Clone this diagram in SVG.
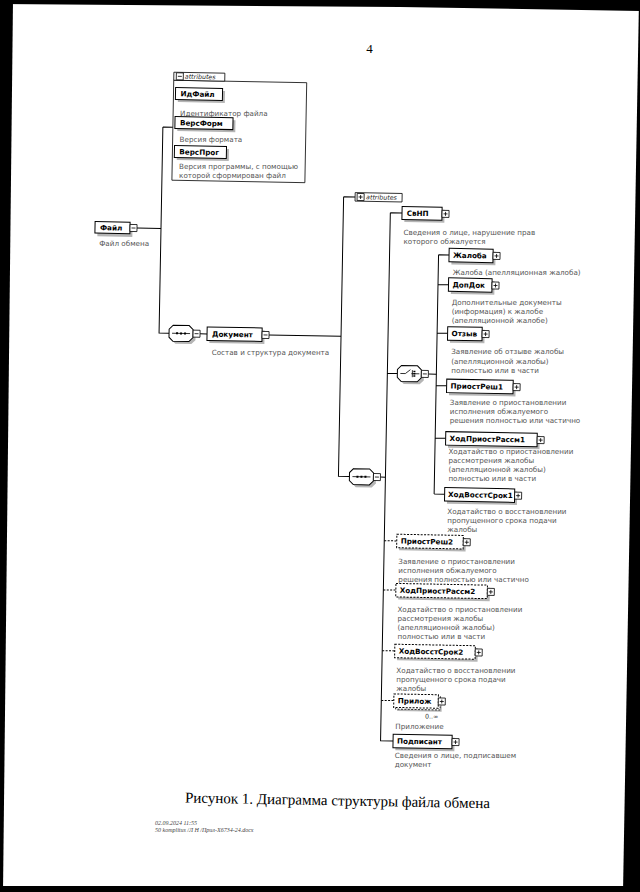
<svg xmlns="http://www.w3.org/2000/svg" xmlns:xlink="http://www.w3.org/1999/xlink" width="640" height="892" viewBox="0 0 640 892">
<style>
.bx{fill:#fff;stroke:#000;stroke-width:1}
.ds{stroke-dasharray:2 1.4}
.sh{fill:#b5b5b5}
.n{font-family:"DejaVu Sans",sans-serif;font-weight:bold;font-size:7.2px;fill:#000}
.t{font-family:"DejaVu Sans",sans-serif;font-size:7.2px;fill:#555}
.ti{font-family:"DejaVu Sans",sans-serif;font-style:italic;font-size:6.3px;fill:#222}
.c{stroke:#000;stroke-width:1;fill:none}
.cd{stroke:#000;stroke-width:1;fill:none;stroke-dasharray:2 1.4}
.cap{font-family:"Liberation Serif",serif;font-size:15px;fill:#000}
.ft{font-family:"Liberation Serif",serif;font-style:italic;font-size:6px;fill:#444}
</style>
<defs>
<g id="pl"><rect x="0" y="0" width="7" height="7" fill="#fff" stroke="#000" stroke-width="0.8"/><path d="M1.5 3.5h4M3.5 1.5v4" stroke="#000" stroke-width="0.8"/></g>
<g id="mi"><rect x="0" y="0" width="7" height="7" fill="#fff" stroke="#000" stroke-width="0.8"/><path d="M1.5 3.5h4" stroke="#000" stroke-width="0.8"/></g>
<path id="oct" d="M4 0H20L24 4V12L20 16H4L0 12V4Z"/>
</defs>
<rect x="0" y="0" width="640" height="892" fill="#fff"/>
<g transform="rotate(1.06 320 446)">
<text x="359" y="52" transform="rotate(-1.06 359 52)" style="font-family:'Liberation Serif',serif;font-size:13px">4</text>

<g id="connectors">
<path class="c" d="M157 130V336H167M133 231.5H157M157 130H167"/>
<path class="c" d="M198 336H205M266 336H339M339 196.3V476H350M339 196.3H350.5"/>
<path class="c" d="M381 476H386M386 211.6V739.5H398.5M386 211.6H397.7M386 372H396M427 372H435"/>
<path class="c" d="M435 252.7V492M435 252.7H445.5M435 282.3H445.5M435 331H445.5M435 383.5H445.5M435 436H445.5M435 492H445.5"/>
<path class="cd" d="M386 539.5H398.5M386 588.7H398.5M386 649.5H398.5M386 699.2H398.5"/>
</g>

<g id="attributes-file">
<rect x="167" y="83" width="133" height="100" fill="#fff" stroke="#000" stroke-width="0.8"/>
<rect x="167" y="75" width="51" height="8" fill="#fff" stroke="#000" stroke-width="0.8"/>
<use xlink:href="#mi" x="169.5" y="75.5"/>
<text class="ti" x="178" y="81.3">attributes</text>
</g>
<g id="ИдФайл"><rect class="sh" x="171.5" y="92.8" width="47" height="12"/><rect class="bx" x="169" y="90.3" width="47" height="12"/><text class="n" x="174" y="99">ИдФайл</text><g transform="rotate(-1.06 174 118.5)"><text class="t" x="174" y="118.5">Идентификатор файла</text></g></g>
<g id="ВерсФорм"><rect class="sh" x="171.5" y="121.8" width="58" height="12"/><rect class="bx" x="169" y="119.3" width="58" height="12"/><text class="n" x="174" y="128">ВерсФорм</text><g transform="rotate(-1.06 174 145)"><text class="t" x="174" y="145">Версия формата</text></g></g>
<g id="ВерсПрог"><rect class="sh" x="171.5" y="150.8" width="52" height="12"/><rect class="bx" x="169" y="148.3" width="52" height="12"/><text class="n" x="174" y="157">ВерсПрог</text><g transform="rotate(-1.06 174 172)"><text class="t" x="174" y="172">Версия программы, с помощью</text><text class="t" x="174" y="181">которой сформирован файл</text></g></g>

<g id="Файл"><rect class="sh" x="93.5" y="228.5" width="35" height="12"/><rect class="bx" x="91" y="225.8" width="35" height="11.5"/><use xlink:href="#mi" x="126" y="228"/><text class="n" x="96" y="234.3">Файл</text><g transform="rotate(-1.06 95.5 250.5)"><text class="t" x="95.5" y="250.5">Файл обмена</text></g></g>

<g id="seq-file"><use xlink:href="#oct" x="169.5" y="330.5" class="sh"/><use xlink:href="#oct" x="167" y="328" class="bx"/><path d="M170 336H188" stroke="#000" stroke-width="0.8"/><path d="M174 336h2M178 336h2M182 336h2" stroke="#000" stroke-width="2"/><use xlink:href="#mi" x="191" y="332.5"/></g>

<g id="Документ"><rect class="sh" x="207.5" y="331.5" width="55" height="13.5"/><rect class="bx" x="205" y="329" width="55" height="13.5"/><use xlink:href="#mi" x="260" y="332.5"/><text class="n" x="210" y="338.6">Документ</text><g transform="rotate(-1.06 210 357)"><text class="t" x="210" y="357">Состав и структура документа</text></g></g>

<g id="attributes-doc"><rect x="350.5" y="192" width="47" height="8.5" fill="#fff" stroke="#000" stroke-width="0.8"/><use xlink:href="#pl" x="352.5" y="192.8"/><text class="ti" x="361.5" y="198.5">attributes</text></g>

<g id="seq-doc"><use xlink:href="#oct" x="352.5" y="470.5" class="sh"/><use xlink:href="#oct" x="350" y="468" class="bx"/><path d="M353 476H371" stroke="#000" stroke-width="0.8"/><path d="M357 476h2M361 476h2M365 476h2" stroke="#000" stroke-width="2"/><use xlink:href="#mi" x="374" y="472.5"/></g>

<g id="СвНП"><rect class="sh" x="400.2" y="207.6" width="40" height="13"/><rect class="bx" x="397.7" y="205.1" width="40" height="13"/><use xlink:href="#pl" x="437.7" y="208.1"/><text class="n" x="402.5" y="214.2">СвНП</text><g transform="rotate(-1.06 399.5 233.5)"><text class="t" x="399.5" y="233.5">Сведения о лице, нарушение прав</text><text class="t" x="399.5" y="242.5">которого обжалуется</text></g></g>

<g id="choice"><use xlink:href="#oct" x="398.5" y="366.5" class="sh"/><use xlink:href="#oct" x="396" y="364" class="bx"/><path d="M399 372h5l5 -4M410 372h8M411 368.5v7" stroke="#000" stroke-width="0.8" fill="none"/><path d="M413 369v1.5M413 371.3v1.5M413 373.6v1.5" stroke="#000" stroke-width="2"/><use xlink:href="#mi" x="420" y="368.5"/></g>

<g id="Жалоба"><rect class="sh" x="448" y="248.5" width="44" height="13.5"/><rect class="bx" x="445.5" y="246" width="44" height="13.5"/><use xlink:href="#pl" x="489.5" y="249.2"/><text class="n" x="449.5" y="255.3">Жалоба</text><g transform="rotate(-1.06 449.5 273)"><text class="t" x="449.5" y="273">Жалоба (апелляционная жалоба)</text></g></g>
<g id="ДопДок"><rect class="sh" x="448" y="278" width="43.5" height="13.5"/><rect class="bx" x="445.5" y="275.5" width="43.5" height="13.5"/><use xlink:href="#pl" x="489" y="278.8"/><text class="n" x="449.5" y="284.9">ДопДок</text><g transform="rotate(-1.06 449 302.5)"><text class="t" x="449" y="302.5">Дополнительные документы</text><text class="t" x="449" y="311.5">(информация) к жалобе</text><text class="t" x="449" y="320.5">(апелляционной жалобе)</text></g></g>
<g id="Отзыв"><rect class="sh" x="448" y="326.8" width="34.5" height="13.5"/><rect class="bx" x="445.5" y="324.3" width="34.5" height="13.5"/><use xlink:href="#pl" x="480" y="327.5"/><text class="n" x="449.5" y="333.6">Отзыв</text><g transform="rotate(-1.06 449.5 352)"><text class="t" x="449.5" y="352">Заявление об отзыве жалобы</text><text class="t" x="449.5" y="361.5">(апелляционной жалобы)</text><text class="t" x="449.5" y="371">полностью или в части</text></g></g>
<g id="ПриостРеш1"><rect class="sh" x="448" y="379.3" width="66.5" height="13.5"/><rect class="bx" x="445.5" y="376.8" width="66.5" height="13.5"/><use xlink:href="#pl" x="512" y="380"/><text class="n" x="449.5" y="386.1">ПриостРеш1</text><g transform="rotate(-1.06 449 403)"><text class="t" x="449" y="403">Заявление о приостановлении</text><text class="t" x="449" y="412">исполнения обжалуемого</text><text class="t" x="449" y="421">решения полностью или частично</text></g></g>
<g id="ХодПриостРассм1"><rect class="sh" x="448" y="431.8" width="91.5" height="13.5"/><rect class="bx" x="445.5" y="429.3" width="91.5" height="13.5"/><use xlink:href="#pl" x="537" y="432.5"/><text class="n" x="449.5" y="438.6">ХодПриостРассм1</text><g transform="rotate(-1.06 448.5 451.5)"><text class="t" x="448.5" y="451.5">Ходатайство о приостановлении</text><text class="t" x="448.5" y="460.5">рассмотрения жалобы</text><text class="t" x="448.5" y="469.5">(апелляционной жалобы)</text><text class="t" x="448.5" y="478.5">полностью или в части</text></g></g>
<g id="ХодВосстСрок1"><rect class="sh" x="448" y="487.8" width="70" height="13.5"/><rect class="bx" x="445.5" y="485.3" width="70" height="13.5"/><use xlink:href="#pl" x="515.5" y="488.5"/><text class="n" x="449" y="494.6">ХодВосстСрок1</text><g transform="rotate(-1.06 448.5 511.5)"><text class="t" x="448.5" y="511.5">Ходатайство о восстановлении</text><text class="t" x="448.5" y="520.5">пропущенного срока подачи</text><text class="t" x="448.5" y="529.5">жалобы</text></g></g>

<g id="ПриостРеш2"><rect class="sh" x="401" y="535.3" width="66.5" height="13.5"/><rect class="bx ds" x="398.5" y="532.8" width="66.5" height="13.5"/><use xlink:href="#pl" x="465" y="536"/><text class="n" x="402.5" y="542.1">ПриостРеш2</text><g transform="rotate(-1.06 400.5 562.5)"><text class="t" x="400.5" y="562.5">Заявление о приостановлении</text><text class="t" x="400.5" y="571.5">исполнения обжалуемого</text><text class="t" x="400.5" y="580.5">решения полностью или частично</text></g></g>
<g id="ХодПриостРассм2"><rect class="sh" x="401" y="584.5" width="91.5" height="13.5"/><rect class="bx ds" x="398.5" y="582" width="91.5" height="13.5"/><use xlink:href="#pl" x="490" y="585.2"/><text class="n" x="402.5" y="591.3">ХодПриостРассм2</text><g transform="rotate(-1.06 400.5 610.5)"><text class="t" x="400.5" y="610.5">Ходатайство о приостановлении</text><text class="t" x="400.5" y="619.5">рассмотрения жалобы</text><text class="t" x="400.5" y="628.5">(апелляционной жалобы)</text><text class="t" x="400.5" y="637.5">полностью или в части</text></g></g>
<g id="ХодВосстСрок2"><rect class="sh" x="401" y="645.3" width="80.5" height="13.5"/><rect class="bx ds" x="398.5" y="642.8" width="80.5" height="13.5"/><use xlink:href="#pl" x="479" y="646"/><text class="n" x="402.5" y="652.1">ХодВосстСрок2</text><g transform="rotate(-1.06 400.5 671.5)"><text class="t" x="400.5" y="671.5">Ходатайство о восстановлении</text><text class="t" x="400.5" y="680.5">пропущенного срока подачи</text><text class="t" x="400.5" y="689.5">жалобы</text></g></g>
<g id="Прилож"><rect class="sh" x="402" y="696" width="44.5" height="13.5"/><rect fill="#fff" stroke="#000" stroke-width="0.8" stroke-dasharray="2 1.4" x="400.5" y="694.2" width="44.5" height="13.5"/><rect class="bx ds" x="398.5" y="692.5" width="44.5" height="13.5"/><use xlink:href="#pl" x="443" y="695.7"/><text class="n" x="402.5" y="701.8">Прилож</text><text class="t" x="430" y="716.5" style="font-size:6.3px;fill:#333">0..∞</text><g transform="rotate(-1.06 400.5 727.5)"><text class="t" x="400.5" y="727.5">Приложение</text></g></g>
<g id="Подписант"><rect class="sh" x="401" y="735.3" width="59" height="13.5"/><rect class="bx" x="398.5" y="732.8" width="59" height="13.5"/><use xlink:href="#pl" x="457.5" y="736"/><text class="n" x="402.5" y="742.1">Подписант</text><g transform="rotate(-1.06 400.5 757)"><text class="t" x="400.5" y="757">Сведения о лице, подписавшем</text><text class="t" x="400.5" y="766">документ</text></g></g>

<text class="cap" x="191.5" y="805">Рисунок 1. Диаграмма структуры файла обмена</text>
<g transform="rotate(-1.06 162 827.5)"><text class="ft" x="162" y="827.5">02.09.2024 11:55</text>
<text class="ft" x="162" y="834.5">50 komplitus /Л Н /Прил-Х6734-24.docx</text></g>
</g>

<path d="M0 0H640V11L400 7L0 4Z" fill="#000"/>
<path d="M639 0H640V892H623Z" fill="#000"/>
<path d="M0 0H13L3 892H0Z" fill="#000"/>
<path d="M0 886H640V892H0Z" fill="#000"/>
</svg>
